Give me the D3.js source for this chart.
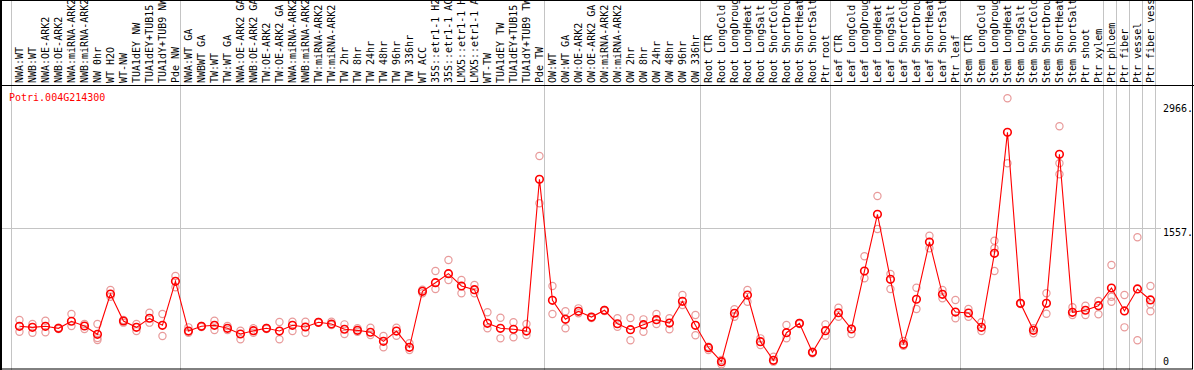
<!DOCTYPE html>
<html><head><meta charset="utf-8">
<script src="https://cdn.jsdelivr.net/npm/d3@7"></script>
<style>
html,body{margin:0;padding:0;background:#fff;}
svg{display:block;}
text{font-family:"DejaVu Sans Mono",monospace;font-size:10px;}
</style></head>
<body>
<svg id="chart" width="1194" height="370"></svg>
<script>
const geneName = "Potri.004G214300";

const categories = [
 "NWA:WT","NWB:WT","NWA:OE-ARK2","NWB:OE-ARK2","NWA:miRNA-ARK2","NWB:miRNA-ARK2","NW 0hr","WT H2O","WT-NW","TUA1dEY NW","TUA1dEY+TUB15 NW","TUA1dY+TUB9 NW","Pde NW",
 "NWA:WT GA","NWBWT GA","TW:WT","TW:WT GA","NWA:OE-ARK2 GA","NWB:OE-ARK2 GA","TW:OE-ARK2","TW:OE-ARK2 GA","NWA:miRNA-ARK2 GA","NWB:miRNA-ARK2 GA","TW:miRNA-ARK2","TW:miRNA-ARK2 GA","TW 2hr","TW 8hr","TW 24hr","TW 48hr","TW 96hr","TW 336hr","WT ACC","35S::etr1-1 H2O","35S::etr1-1 ACC","LMX5::etr1-1 H2O","LMX5::etr1-1 ACC","WT-TW","TUA1dEY TW","TUA1dEY+TUB15 TW","TUA1dY+TUB9 TW","Pde TW",
 "OW:WT","OW:WT GA","OW:OE-ARK2","OW:OE-ARK2 GA","OW:miRNA-ARK2","OW:miRNA-ARK2 GA","OW 2hr","OW 8hr","OW 24hr","OW 48hr","OW 96hr","OW 336hr",
 "Root CTR","Root LongCold","Root LongDrought","Root LongHeat","Root LongSalt","Root ShortCold","Root ShortDrought","Root ShortHeat","Root ShortSalt","Ptr root",
 "Leaf CTR","Leaf LongCold","Leaf LongDrought","Leaf LongHeat","Leaf LongSalt","Leaf ShortCold","Leaf ShortDrought","Leaf ShortHeat","Leaf ShortSalt","Ptr leaf",
 "Stem CTR","Stem LongCold","Stem LongDrought","Stem LongHeat","Stem LongSalt","Stem ShortCold","Stem ShortDrought","Stem ShortHeat","Stem ShortSalt","Ptr shoot","Ptr xylem",
 "Ptr phloem","Ptr fiber","Ptr vessel","Ptr fiber vessel"
];

const groupStarts = ["NWA:WT","NWA:WT GA","OW:WT","Root CTR","Leaf CTR","Stem CTR","Ptr phloem","Ptr fiber","Ptr vessel","Ptr fiber vessel"];

const meanValues = [
 440,428,440,417,497,443,349,807,500,428,531,451,951,
 386,440,451,417,352,390,417,386,451,432,485,466,406,394,372,269,386,201,837,935,1038,898,856,474,417,406,386,2110,
 735,519,610,545,622,469,401,458,515,477,724,451,
 197,38,588,795,265,53,367,474,144,390,
 594,409,1068,1713,974,235,747,1398,803,602,
 591,428,1269,2644,701,394,701,2394,599,622,674,
 875,614,864,739
];

const replicateValues = [
 [511,378],[466,367],[503,372],[424,409],[580,443],[466,409],[466,284,307],[852,776],[511,481],[466,386],[594,481],[580,330],[1011,883],
 [428,367],[443,432],[503,398],[443,398],[390,292],[417,367],[420,409],[489,292],[492,386],[492,367],[489,481],[492,455],[462,352],[417,378],[424,341],[330,201],[424,333],[247,170],[856,815],[1068,864],[1193,966],[966,815],[909,815],[599,417],[537,303],[485,315],[466,341],[2375,1838],
 [898,580],[610,417],[644,588],[545,534],[625,614],[531,435],[534,281],[519,378],[580,466],[531,406],[795,682],[568,338],
 [208,170],[57,8],[633,549],[852,719],[303,227],[94,38],[455,303],[477,466],[151,133],[462,333],
 [651,549],[409,352],[1235,985],[1920,1545],[1034,864],[273,219],[878,636],[1469,1326],[852,758],[739,531],
 [636,549],[485,386],[1413,1326,1068],[3031,2292],[701,693],[417,360],[815,583],[2713,2292,2167],[656,568],[674,568],[727,576],
 [1136,776,719],[795,428],[1451,281],[898,690,610]
];

const yTickValues = [0, 1557, 2966];
const yTickLabels = ["0", "1557.", "2966."];
const gridValues = [1557];

const W = 1194, H = 370;
const plotTop = 85, plotBottom = 369;
const svg = d3.select("#chart");

const x = d3.scaleBand().domain(categories).range([11, 1155]).padding(0);
const cx = d => x(d) + x.bandwidth() * 0.65;
const y = d3.scaleLinear().domain([0, 2966]).range([365, 104]);

// vertical group gridlines (full height)
const bounds = groupStarts.map(g => x(g)).concat([x.range()[1]]);
svg.append("g").selectAll("line").data(bounds).join("line")
  .attr("x1", d => d + 0.5).attr("x2", d => d + 0.5)
  .attr("y1", 0).attr("y2", H)
  .attr("stroke", "#c4c4c4").attr("stroke-width", 1);

// horizontal gridline
svg.append("g").selectAll("line").data(gridValues).join("line")
  .attr("x1", 2).attr("x2", 1161)
  .attr("y1", d => Math.round(y(d)) + 0.5).attr("y2", d => Math.round(y(d)) + 0.5)
  .attr("stroke", "#c4c4c4").attr("stroke-width", 1);

// category labels (rotated)
svg.append("g").selectAll("text").data(categories).join("text")
  .attr("transform", d => `translate(${cx(d) + 3.5},83) rotate(-90)`)
  .attr("fill", "#000")
  .text(d => d);

// right axis
const axis = d3.axisRight(y).tickValues(yTickValues).tickSize(0)
  .tickFormat((d, i) => yTickLabels[i]);
const ag = svg.append("g").attr("transform", "translate(1163,0)").call(axis);
ag.select(".domain").remove();
ag.selectAll("text")
  .attr("x", 0)
  .attr("dy", d => d === 0 ? "-0.05em" : "0.75em")
  .attr("fill", "#000")
  .style("font-family", '"DejaVu Sans Mono",monospace')
  .style("font-size", "10px");

// frame
svg.append("rect").attr("x", 0.5).attr("y", 0.5).attr("width", W - 2).attr("height", H - 1.5)
  .attr("fill", "none").attr("stroke", "#000").attr("stroke-width", 1);
svg.append("line").attr("x1", 1).attr("x2", 1).attr("y1", 0).attr("y2", H)
  .attr("stroke", "#000").attr("stroke-width", 2);
svg.append("line").attr("x1", 0).attr("x2", W).attr("y1", plotTop + 0.5).attr("y2", plotTop + 0.5)
  .attr("stroke", "#000").attr("stroke-width", 1);

// replicates
const reps = [];
categories.forEach((c, i) => replicateValues[i].forEach(v => reps.push({c, v})));
svg.append("g").selectAll("circle").data(reps).join("circle")
  .attr("cx", d => cx(d.c)).attr("cy", d => y(d.v)).attr("r", 3.6)
  .attr("fill", "none").attr("stroke", "#e89a9a").attr("stroke-width", 1.2);

// mean line
const pts = categories.map((c, i) => ({c, v: meanValues[i]}));
svg.append("path").datum(pts)
  .attr("d", d3.line().x(d => cx(d.c)).y(d => y(d.v)))
  .attr("fill", "none").attr("stroke", "#ff0000").attr("stroke-width", 1.1);

svg.append("g").selectAll("circle").data(pts).join("circle")
  .attr("cx", d => cx(d.c)).attr("cy", d => y(d.v)).attr("r", 3.8)
  .attr("fill", "none").attr("stroke", "#ff0000").attr("stroke-width", 1.6);

// gene title
svg.append("text").attr("x", 9).attr("y", 101).attr("fill", "#ff0000").text(geneName);
</script>
</body></html>
